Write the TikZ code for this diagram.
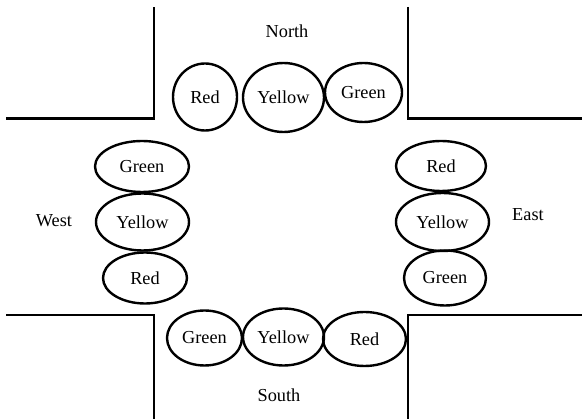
\documentclass[tikz,border=0pt]{standalone}
\usepackage{fontspec}
\setmainfont{Liberation Serif}
\usetikzlibrary{shapes.geometric}
\tikzset{
  lamp/.style={draw, ellipse, line width=2.4pt, inner sep=0pt, font=\fontsize{18.3}{21}\selectfont},
  road/.style={line width=2.6pt, line cap=butt, line join=miter},
  dirlabel/.style={font=\fontsize{18.3}{21}\selectfont, inner sep=0pt}
}
\begin{document}
\begin{tikzpicture}[x=1pt,y=-1pt]
\useasboundingbox (0,0) rectangle (582,419);
% road corners
\draw[road] (6,118.5) -- (154,118.5) -- (154,7);
\draw[road] (408,7) -- (408,118.5) -- (582,118.5);
\draw[road] (6,315) -- (154,315) -- (154,419);
\draw[road] (408,419) -- (408,315) -- (582,315);
% direction labels
\node[dirlabel] (north) at (287,31) {North};
\node[dirlabel] (west) at (54,221) {West};
\node[dirlabel] (east) at (528,215) {East};
\node[dirlabel] (south) at (279,395) {South};
% North lights
\node[lamp, minimum width=64pt, minimum height=67pt] (nr) at (205,97) {Red};
\node[lamp, minimum width=81pt, minimum height=69pt] (ny) at (283.5,97.5) {Yellow};
\node[lamp, minimum width=77pt, minimum height=59pt] (ng) at (363.5,92.5) {Green};
% West lights
\node[lamp, minimum width=94pt, minimum height=51pt] (wg) at (142,166.5) {Green};
\node[lamp, minimum width=93pt, minimum height=57pt] (wy) at (142.5,222) {Yellow};
\node[lamp, minimum width=84pt, minimum height=51pt] (wr) at (145,278) {Red};
% East lights
\node[lamp, minimum width=90pt, minimum height=50pt] (er) at (441,166) {Red};
\node[lamp, minimum width=93pt, minimum height=58pt] (ey) at (442.5,222) {Yellow};
\node[lamp, minimum width=82pt, minimum height=55pt] (eg) at (445,278) {Green};
% South lights
\node[lamp, minimum width=75pt, minimum height=55pt] (sg) at (204.5,338) {Green};
\node[lamp, minimum width=81pt, minimum height=57pt] (sy) at (283.5,337) {Yellow};
\node[lamp, minimum width=83pt, minimum height=54pt] (sr) at (364.5,339) {Red};
\end{tikzpicture}
\end{document}
